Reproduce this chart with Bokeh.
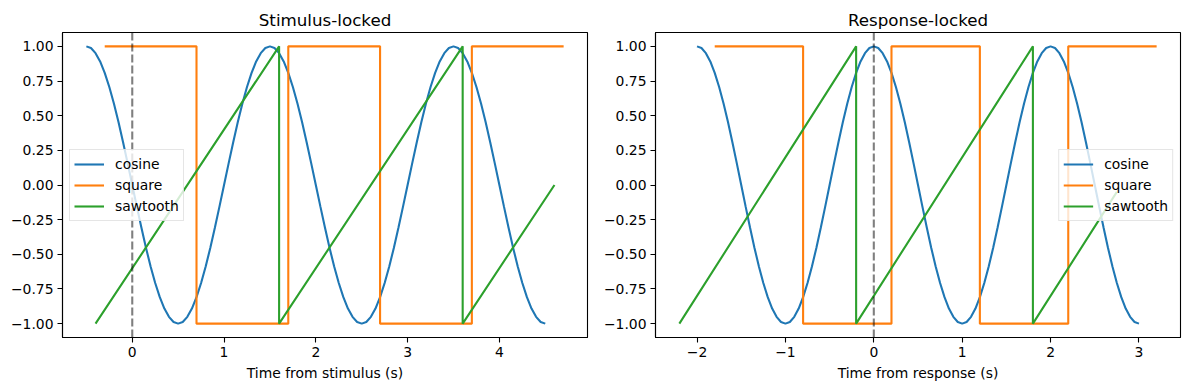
import numpy as np
from bokeh.plotting import figure
from bokeh.layouts import row
from bokeh.models import Range1d, FixedTicker, Span
from bokeh.embed import file_html
from bokeh.resources import INLINE

# ---------------- data ----------------
# cosine samples (every 0.05 s over 5 s)
cosine_values = [
    1.000, 0.988, 0.951, 0.891, 0.809, 0.707, 0.588, 0.454, 0.309, 0.156,
    0.000, -0.156, -0.309, -0.454, -0.588, -0.707, -0.809, -0.891, -0.951, -0.988,
    -1.000, -0.988, -0.951, -0.891, -0.809, -0.707, -0.588, -0.454, -0.309, -0.156,
    0.000, 0.156, 0.309, 0.454, 0.588, 0.707, 0.809, 0.891, 0.951, 0.988,
    1.000, 0.988, 0.951, 0.891, 0.809, 0.707, 0.588, 0.454, 0.309, 0.156,
    0.000, -0.156, -0.309, -0.454, -0.588, -0.707, -0.809, -0.891, -0.951, -0.988,
    -1.000, -0.988, -0.951, -0.891, -0.809, -0.707, -0.588, -0.454, -0.309, -0.156,
    0.000, 0.156, 0.309, 0.454, 0.588, 0.707, 0.809, 0.891, 0.951, 0.988,
    1.000, 0.988, 0.951, 0.891, 0.809, 0.707, 0.588, 0.454, 0.309, 0.156,
    0.000, -0.156, -0.309, -0.454, -0.588, -0.707, -0.809, -0.891, -0.951, -0.988,
    -1.000,
]
cosine_time_stim = np.round(np.linspace(-0.5, 4.5, len(cosine_values)), 3)
cosine_time_resp = np.round(np.linspace(-2.0, 3.0, len(cosine_values)), 3)

square_time_stim = [-0.3, 0.7, 0.7, 1.7, 1.7, 2.7, 2.7, 3.7, 3.7, 4.7]
square_time_resp = [-1.8, -0.8, -0.8, 0.2, 0.2, 1.2, 1.2, 2.2, 2.2, 3.2]
square_values = [1, 1, -1, -1, 1, 1, -1, -1, 1, 1]

saw_time_stim = [-0.4, 1.6, 1.6, 3.6, 3.6, 4.6]
saw_values_stim = [-1, 1, -1, 1, -1, 0.0]
saw_time_resp = [-2.2, -0.2, -0.2, 1.8, 1.8, 2.75]
saw_values_resp = [-1, 1, -1, 1, -1, -0.05]

series_names = ["cosine", "square", "sawtooth"]
series_colors = ["#1f77b4", "#ff7f0e", "#2ca02c"]

y_ticks = [-1.0, -0.75, -0.5, -0.25, 0.0, 0.25, 0.5, 0.75, 1.0]
y_tick_labels = ["−1.00", "−0.75", "−0.50", "−0.25", "0.00", "0.25", "0.50", "0.75", "1.00"]
x_ticks_stim = [0, 1, 2, 3, 4]
x_tick_labels_stim = ["0", "1", "2", "3", "4"]
x_ticks_resp = [-2, -1, 0, 1, 2, 3]
x_tick_labels_resp = ["−2", "−1", "0", "1", "2", "3"]

titles = ["Stimulus-locked", "Response-locked"]
xlabels = ["Time from stimulus (s)", "Time from response (s)"]

FONT = "DejaVu Sans"
LW = 2.1


def padded(lo, hi, frac=0.05):
    d = hi - lo
    return lo - frac * d, hi + frac * d


def make_panel(title, xlabel, series, xticks, xlabels_, legend_loc,
               width, bl, br):
    xs_all = np.concatenate([np.asarray(s[0], dtype=float) for s in series])
    ys_all = np.concatenate([np.asarray(s[1], dtype=float) for s in series])
    x0, x1 = padded(xs_all.min(), xs_all.max())
    y0, y1 = padded(ys_all.min(), ys_all.max(), 0.05)
    p = figure(width=width, height=388, output_backend="svg",
               toolbar_location=None, x_range=Range1d(x0, x1),
               y_range=Range1d(y0, y1),
               min_border_left=bl, min_border_right=br,
               min_border_top=32, min_border_bottom=51)
    p.background_fill_color = "white"
    p.border_fill_color = "white"
    p.outline_line_color = "black"
    p.outline_line_alpha = 1
    p.outline_line_width = 1.1
    p.grid.visible = False

    p.title.text = title
    p.title.align = "center"
    p.title.text_font = FONT
    p.title.text_font_size = "16.7px"
    p.title.text_font_style = "normal"
    p.title.text_color = "black"
    p.title.standoff = 6

    for (xs, ys), name, col in zip(series, series_names, series_colors):
        p.line(list(xs), list(ys), line_color=col, line_width=LW,
               legend_label=name)

    p.add_layout(Span(location=0, dimension="height", line_color="black",
                      line_alpha=0.5, line_width=LW, line_dash="8 3"))

    p.xaxis.ticker = FixedTicker(ticks=xticks)
    p.xaxis.major_label_overrides = {t: l for t, l in zip(xticks, xlabels_)}
    p.yaxis.ticker = FixedTicker(ticks=y_ticks)
    p.yaxis.major_label_overrides = {t: l for t, l in zip(y_ticks, y_tick_labels)}
    p.xaxis.axis_label = xlabel
    for ax in (p.xaxis, p.yaxis):
        ax.axis_line_color = "black"
        ax.axis_line_width = 1.1
        ax.major_tick_line_color = "black"
        ax.major_tick_line_width = 1.1
        ax.major_tick_out = 5
        ax.major_tick_in = 0
        ax.minor_tick_line_color = None
        ax.major_label_text_font = FONT
        ax.major_label_text_font_size = "13.9px"
        ax.major_label_text_color = "black"
        ax.major_label_standoff = 4
        ax.axis_label_text_font = FONT
        ax.axis_label_text_font_size = "13.9px"
        ax.axis_label_text_font_style = "normal"
        ax.axis_label_text_color = "black"
        ax.axis_label_standoff = 5

    lg = p.legend[0]
    lg.location = legend_loc
    lg.margin = 7
    lg.padding = 4
    lg.spacing = 1
    lg.glyph_width = 30
    lg.glyph_height = 20
    lg.label_height = 20
    lg.label_standoff = 11
    lg.label_text_font = FONT
    lg.label_text_font_size = "13.9px"
    lg.label_text_color = "black"
    lg.border_line_color = "#cccccc"
    lg.border_line_width = 1
    lg.background_fill_color = "white"
    lg.background_fill_alpha = 0.8
    return p


p1 = make_panel(titles[0], xlabels[0],
                [(cosine_time_stim, cosine_values),
                 (square_time_stim, square_values),
                 (saw_time_stim, saw_values_stim)],
                x_ticks_stim, x_tick_labels_stim, "center_left",
                width=598, bl=62, br=11)
p2 = make_panel(titles[1], xlabels[1],
                [(cosine_time_resp, cosine_values),
                 (square_time_resp, square_values),
                 (saw_time_resp, saw_values_resp)],
                x_ticks_resp, x_tick_labels_resp, "center_right",
                width=589, bl=57, br=7)

layout = row(p1, p2)
open("out.html", "w").write(file_html(layout, INLINE))
